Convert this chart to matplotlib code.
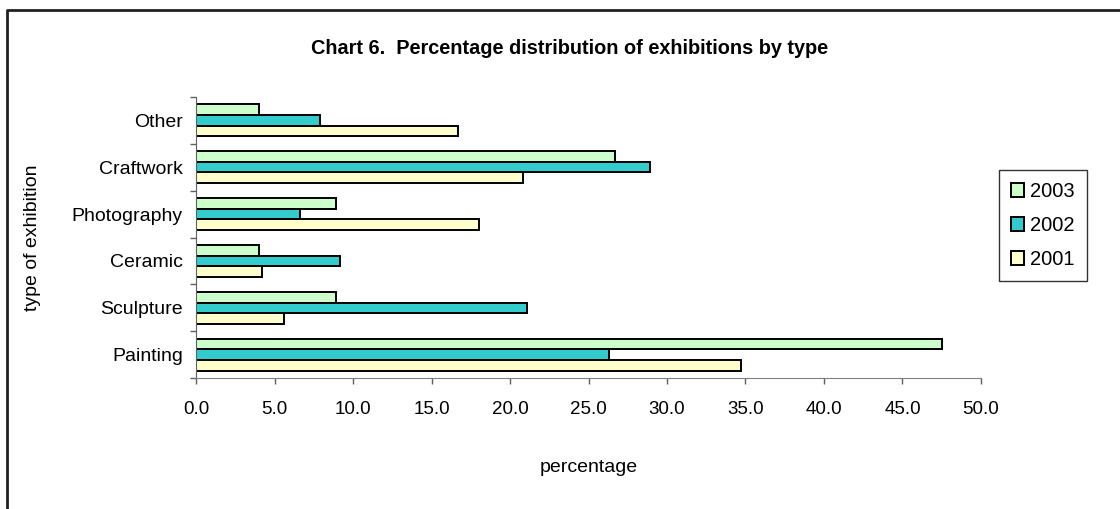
import matplotlib.pyplot as plt
from matplotlib.lines import Line2D
import numpy as np

plt.rcParams['font.family'] = ['Liberation Sans', 'DejaVu Sans']

# categories bottom -> top, as drawn on the y axis
categories = ["Painting", "Sculpture", "Ceramic", "Photography", "Craftwork", "Other"]
years = ["2003", "2002", "2001"]
pct_2003 = [47.5, 8.9, 4.0, 8.9, 26.7, 4.0]
pct_2002 = [26.3, 21.1, 9.2, 6.6, 28.9, 7.9]
pct_2001 = [34.7, 5.6, 4.2, 18.0, 20.8, 16.7]
xticks = [0, 5, 10, 15, 20, 25, 30, 35, 40, 45, 50]

colors = {"2003": "#CCFFCC", "2002": "#33CCCC", "2001": "#FFFFCC"}
series = {"2003": pct_2003, "2002": pct_2002, "2001": pct_2001}

fig = plt.figure(figsize=(11.2, 5.09), dpi=100)
W, H = 1120, 509
ax = fig.add_axes([196 / W, (H - 378.3) / H, (981 - 196) / W, (378.3 - 96.7) / H])

y = np.arange(len(categories))
h = 0.2275
offsets = {"2003": h, "2002": 0.0, "2001": -h}
for yr in years:
    ax.barh(y + offsets[yr], series[yr], height=h, color=colors[yr],
            edgecolor="black", linewidth=1.4, label=yr)

ax.set_xlim(0, 50)
ax.set_ylim(-0.5, len(categories) - 0.5)
ax.set_xticks(xticks)
ax.set_xticklabels([f"{v:.1f}" for v in xticks], fontsize=13.5)
ax.set_yticks(y)
ax.set_yticklabels(categories, fontsize=14)
ax.set_yticks(np.arange(-0.5, len(categories)), minor=True)
ax.tick_params(axis="y", which="major", length=0, pad=9.5)
ax.tick_params(axis="y", which="minor", length=4.5, color="#606060", width=1)
ax.tick_params(axis="x", length=4, color="#606060", width=1, pad=12)

for s in ["top", "right"]:
    ax.spines[s].set_visible(False)
ax.spines["bottom"].set_color("#808080")
ax.spines["left"].set_color("#606060")

ax.set_xlabel("percentage", fontsize=14, labelpad=30)
fig.text(32.5 / W, 1 - 237.5 / H, "type of exhibition", rotation=90,
         ha="center", va="center", fontsize=14)

fig.text(570 / W, 1 - 48 / H, "Chart 6.  Percentage distribution of exhibitions by type",
         ha="center", va="center", fontsize=14.3, fontweight="bold")

leg = ax.legend(loc="upper left", bbox_to_anchor=(999 / W, 1 - 170 / H),
                bbox_transform=fig.transFigure, fontsize=14.5, frameon=True,
                fancybox=False, edgecolor="black", handlelength=0.65,
                handleheight=0.65, handletextpad=0.3, labelspacing=0.75,
                borderpad=0.6, borderaxespad=0)
leg.get_frame().set_linewidth(1)

# outer chart frame (top and left edges)
fig.add_artist(Line2D([7 / W, 7 / W, 1.0], [0.0, 1 - 10 / H, 1 - 10 / H],
                      transform=fig.transFigure, color="#202020", linewidth=2))

fig.savefig("out.png", dpi=100)
